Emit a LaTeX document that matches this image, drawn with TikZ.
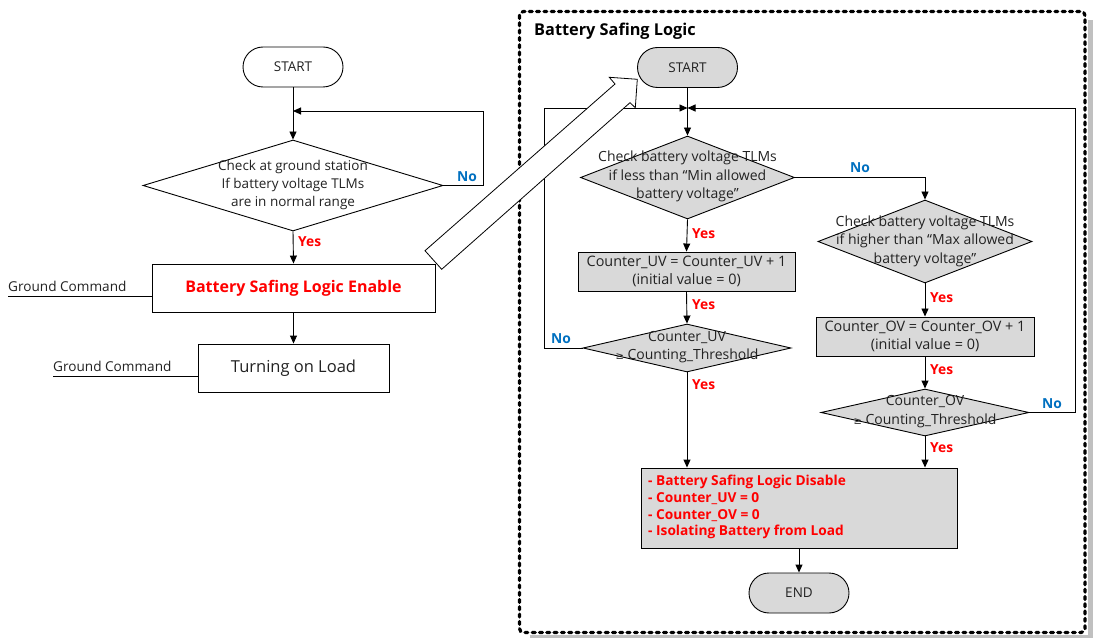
\documentclass[tikz,border=0pt]{standalone}
\usepackage{fontspec}
\setmainfont{Open Sans}
\newfontfamily\symfont{DejaVu Sans}
\usetikzlibrary{arrows.meta,shapes.geometric}
\definecolor{boxgray}{HTML}{D9D9D9}
\definecolor{shadowgray}{HTML}{C0C0C0}
\definecolor{yesred}{HTML}{FF0000}
\definecolor{noblue}{HTML}{0070C0}
\definecolor{inktext}{HTML}{222222}
\newcommand{\geqsym}{{\symfont\fontsize{10}{12}\selectfont ≥}}

\tikzset{
  txt/.style={font=\fontsize{13.5}{18}\selectfont, text=inktext, align=center, inner sep=0pt},
  txtr/.style={txt, font=\fontsize{14}{18.5}\selectfont},
  txtb/.style={txt, font=\fontsize{14.4}{17.5}\selectfont},
  conn/.style={line width=0.9pt},
  flow/.style={conn, -{Triangle[length=8pt,width=7pt]}},
  pill/.style={draw, line width=0.9pt, rounded corners=20pt, minimum width=100pt,
               minimum height=40pt, inner sep=0pt, font=\fontsize{13.5}{16}\selectfont, text=inktext},
  boxn/.style={draw, line width=0.9pt, inner sep=0pt},
  dec/.style={draw, diamond, line width=0.9pt, inner sep=0pt},
  yes/.style={text=yesred, font=\fontsize{13.8}{16}\selectfont\bfseries, anchor=west, inner sep=0pt},
  no/.style={text=noblue, font=\fontsize{13.8}{16}\selectfont\bfseries, anchor=west, inner sep=0pt},
  cmd/.style={font=\fontsize{13.6}{16}\selectfont, text=inktext, anchor=south west,
              inner xsep=0pt, inner ysep=4pt},
}

\begin{document}
\begin{tikzpicture}[x=1pt, y=-1pt]
\fill[white] (0,0) rectangle (1093,639);
\useasboundingbox (0,0) rectangle (1093,639);

% ---------- ground segment ----------
\node[pill] (s1) at (293,67) {START};
\node[dec, minimum width=300pt, minimum height=91pt] (d0) at (293,185.5) {};
\node[txt] (d0t) at (293,185) {Check at ground station\\If battery voltage TLMs\\are in normal range};
\node[boxn, minimum width=283pt, minimum height=48pt,
      font=\fontsize{16}{18}\selectfont\bfseries, text=yesred] (en) at (293.5,288) {Battery Safing Logic Enable};
\node[boxn, minimum width=191pt, minimum height=48pt,
      font=\fontsize{16.5}{18}\selectfont, text=inktext] (ld) at (293.5,368) {Turning on Load};

\node[cmd] (gc1) at (8,296) {Ground Command};
\node[cmd] (gc2) at (53,376) {Ground Command};
\draw[conn] (gc1.south west) -- (gc1.south west -| en.west);
\draw[conn] (gc2.south west) -- (gc2.south west -| ld.west);

\coordinate (lp0) at (483,111);
\coordinate (j0) at (293,111);
\draw[flow] (s1.south) -- (d0.north);
\draw[flow] (d0.east) -| (lp0) -- (j0);
\draw[flow] (d0.south) -- (en.north);
\draw[flow] (en.south) -- (ld.north);
\node[no] (n0) at (457,177) {No};
\node[yes] (y0) at (298,242) {Yes};

% ---------- on-board safing logic frame ----------
\fill[shadowgray] (1087.5,20) rectangle (1093,638);
\fill[shadowgray] (530,634.5) rectangle (1093,638);
\draw[line width=3.2pt, line cap=round, dash pattern=on 3pt off 4.3pt, rounded corners=4pt]
  (519.5,11.5) rectangle (1085,632.5);
\node[anchor=west, inner sep=0pt, font=\fontsize{16.3}{18}\selectfont\bfseries, text=black] (ttl) at (534,31) {Battery Safing Logic};

\node[pill, fill=boxgray] (s2) at (687.5,67.5) {START};
\coordinate (j1) at (687.5,108);

\node[dec, fill=boxgray, minimum width=214pt, minimum height=83pt] (d1) at (687.5,177.5) {};
\node[txtr] (d1t) at (687.5,176.5) {Check battery voltage TLMs\\if less than “Min allowed\\battery voltage”};

\node[boxn, fill=boxgray, minimum width=217pt, minimum height=39pt] (uv) at (686.5,271.5) {};
\node[txtb] (uvt) at (686.5,271.5) {Counter\_UV = Counter\_UV + 1\\(initial value = 0)};

\node[dec, fill=boxgray, minimum width=208pt, minimum height=48pt] (d3) at (687,348) {};
\node[txtr] (d3t) at (687,347) {Counter\_UV\\\geqsym\ Counting\_Threshold};

\node[dec, fill=boxgray, minimum width=214pt, minimum height=83pt] (d2) at (925,241.5) {};
\node[txtr] (d2t) at (925,241) {Check battery voltage TLMs\\if higher than “Max allowed\\battery voltage”};

\node[boxn, fill=boxgray, minimum width=218pt, minimum height=39pt] (ov) at (925,336.5) {};
\node[txtb] (ovt) at (925,336.5) {Counter\_OV = Counter\_OV + 1\\(initial value = 0)};

\node[dec, fill=boxgray, minimum width=208pt, minimum height=47pt] (d4) at (925,412.5) {};
\node[txtr] (d4t) at (925,411.5) {Counter\_OV\\\geqsym\ Counting\_Threshold};

\node[boxn, fill=boxgray, minimum width=316pt, minimum height=80pt] (fin) at (799,508) {};
\node[anchor=north west, inner sep=0pt, align=left, text=yesred,
      font=\fontsize{13.7}{16.7}\selectfont\bfseries] (fint) at (648,475)
  {- Battery Safing Logic Disable\\- Counter\_UV = 0\\- Counter\_OV = 0\\- Isolating Battery from Load};

\node[pill, fill=boxgray] (e2) at (799,593) {END};

% connectors
\coordinate (lpL) at (544,108);
\coordinate (lpR) at (1075,108);
\draw[flow] (s2.south) -- (d1.north);
\draw[flow] (d1.south) -- (uv.north);
\draw[flow] (uv.south) -- (d3.north);
\draw[flow] (d3.south) -- (d3.south |- fin.north);
\draw[flow] (d1.east) -| (d2.north);
\draw[flow] (d2.south) -- (ov.north);
\draw[flow] (ov.south) -- (d4.north);
\draw[flow] (d4.south) -- (d4.south |- fin.north);
\draw[flow] (fin.south) -- (e2.north);
\draw[flow] (d3.west) -| (lpL) -- (j1);
\draw[flow] (d4.east) -| (lpR) -- (j1);

\node[no] (n1) at (850,168) {No};
\node[yes] (y1) at (692,234) {Yes};
\node[yes] (y2) at (692,305) {Yes};
\node[no] (n3) at (551,339) {No};
\node[yes] (y3) at (692,385) {Yes};
\node[yes] (y4) at (930,298) {Yes};
\node[yes] (y5) at (930,370) {Yes};
\node[no] (n4) at (1042,404) {No};
\node[yes] (y6) at (930,448) {Yes};

% hand-over block arrow from the enable command into the safing logic
\draw[line width=0.8pt, fill=white, line join=miter]
  (425,250.7) -- (615,84) -- (609.3,77.3) -- (637.3,79.3) -- (635.3,107.7)
  -- (630,102.7) -- (441.7,269.3) -- cycle;
\end{tikzpicture}
\end{document}
